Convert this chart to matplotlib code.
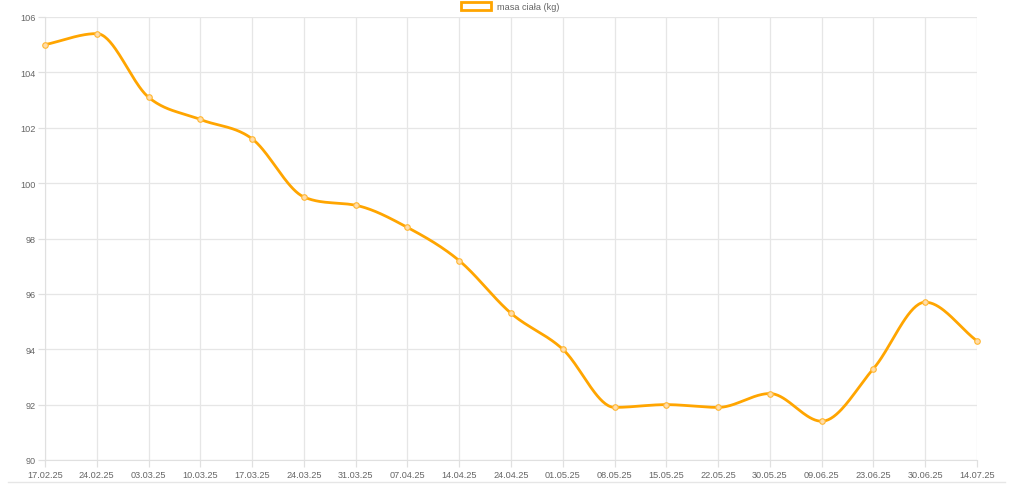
import numpy as np
import matplotlib
matplotlib.use("Agg")
import matplotlib.pyplot as plt
from matplotlib.lines import Line2D
from matplotlib.patches import Rectangle

dates = ["17.02.25", "24.02.25", "03.03.25", "10.03.25", "17.03.25", "24.03.25",
         "31.03.25", "07.04.25", "14.04.25", "24.04.25", "01.05.25", "08.05.25",
         "15.05.25", "22.05.25", "30.05.25", "09.06.25", "23.06.25", "30.06.25",
         "14.07.25"]
weights = [105.0, 105.4, 103.1, 102.3, 101.6, 99.5, 99.2, 98.4, 97.2, 95.3,
           94.0, 91.9, 92.0, 91.9, 92.4, 91.4, 93.3, 95.7, 94.3]
series_label = "masa ciała (kg)"
y_ticks = [90, 92, 94, 96, 98, 100, 102, 104, 106]

W, H, DPI = 1024, 485, 100
fig = plt.figure(figsize=(W / DPI, H / DPI), dpi=DPI)
plt.rcParams['font.family'] = ['Liberation Sans', 'DejaVu Sans']

L, R, T, B = 45, 977, 18, 461
ax = fig.add_axes([L / W, (H - B) / H, (R - L) / W, (B - T) / H])

color = "#FFA500"
ymin, ymax = 90, 106
n = len(weights)
x = np.arange(n, dtype=float)
y = np.array(weights, dtype=float)

# Monotone cubic interpolation (Fritsch-Carlson, as in Chart.js)
dk = np.diff(y) / np.diff(x)
mk = np.zeros(n)
for i in range(n):
    if i == 0:
        mk[i] = dk[0]
    elif i == n - 1:
        mk[i] = dk[-1]
    elif np.sign(dk[i - 1]) != np.sign(dk[i]):
        mk[i] = 0.0
    else:
        mk[i] = (dk[i - 1] + dk[i]) / 2
for i in range(n - 1):
    if dk[i] == 0:
        mk[i] = mk[i + 1] = 0
        continue
    a = mk[i] / dk[i]
    b = mk[i + 1] / dk[i]
    s = a * a + b * b
    if s > 9:
        tk = 3 / np.sqrt(s)
        mk[i] = a * tk * dk[i]
        mk[i + 1] = b * tk * dk[i]

cx, cy = [], []
tt = np.linspace(0, 1, 40)
for i in range(n - 1):
    h = (x[i + 1] - x[i]) / 3
    P0 = np.array([x[i], y[i]])
    P1 = np.array([x[i] + h, y[i] + mk[i] * h])
    P2 = np.array([x[i + 1] - h, y[i + 1] - mk[i + 1] * h])
    P3 = np.array([x[i + 1], y[i + 1]])
    pts = ((1 - tt) ** 3)[:, None] * P0 + (3 * (1 - tt) ** 2 * tt)[:, None] * P1 \
        + (3 * (1 - tt) * tt ** 2)[:, None] * P2 + (tt ** 3)[:, None] * P3
    cx.extend(pts[:, 0])
    cy.extend(pts[:, 1])

ax.plot(cx, cy, color=color, lw=2.0, solid_capstyle='round', zorder=3, clip_on=False)
ax.plot(x, y, 'o', ms=4.0, mfc="#FFDCA8", mec="#FFB733", mew=0.8, zorder=4, clip_on=False)

ax.set_xlim(0, n - 1)
ax.set_ylim(ymin, ymax)
ax.set_xticks(x)
ax.set_xticklabels(dates)
ax.set_yticks(y_ticks)
ax.grid(True, color="#e6e6e6", lw=0.9)
ax.set_axisbelow(True)
for s in ax.spines.values():
    s.set_visible(False)
ax.spines['left'].set_visible(True)
ax.spines['bottom'].set_visible(True)
ax.spines['left'].set_color("#e0e0e0")
ax.spines['bottom'].set_color("#e0e0e0")
ax.tick_params(axis='both', colors="#e0e0e0", labelcolor="#666666",
               labelsize=6.6, length=5, width=0.9, pad=2)

# legend
fig.add_artist(Rectangle((461 / W, (H - 11) / H), 30 / W, 8 / H,
                         transform=fig.transFigure, facecolor="white",
                         edgecolor=color, lw=2))
fig.text(497 / W, (H - 7) / H, series_label, fontsize=6.6, color="#666666",
         va='center', ha='left')

# bottom page line
fig.add_artist(Line2D([8 / W, 1005 / W], [(H - 483) / H] * 2,
                      transform=fig.transFigure, color="#e6e6e6", lw=1))

fig.savefig("out.png", dpi=DPI, facecolor="white")
